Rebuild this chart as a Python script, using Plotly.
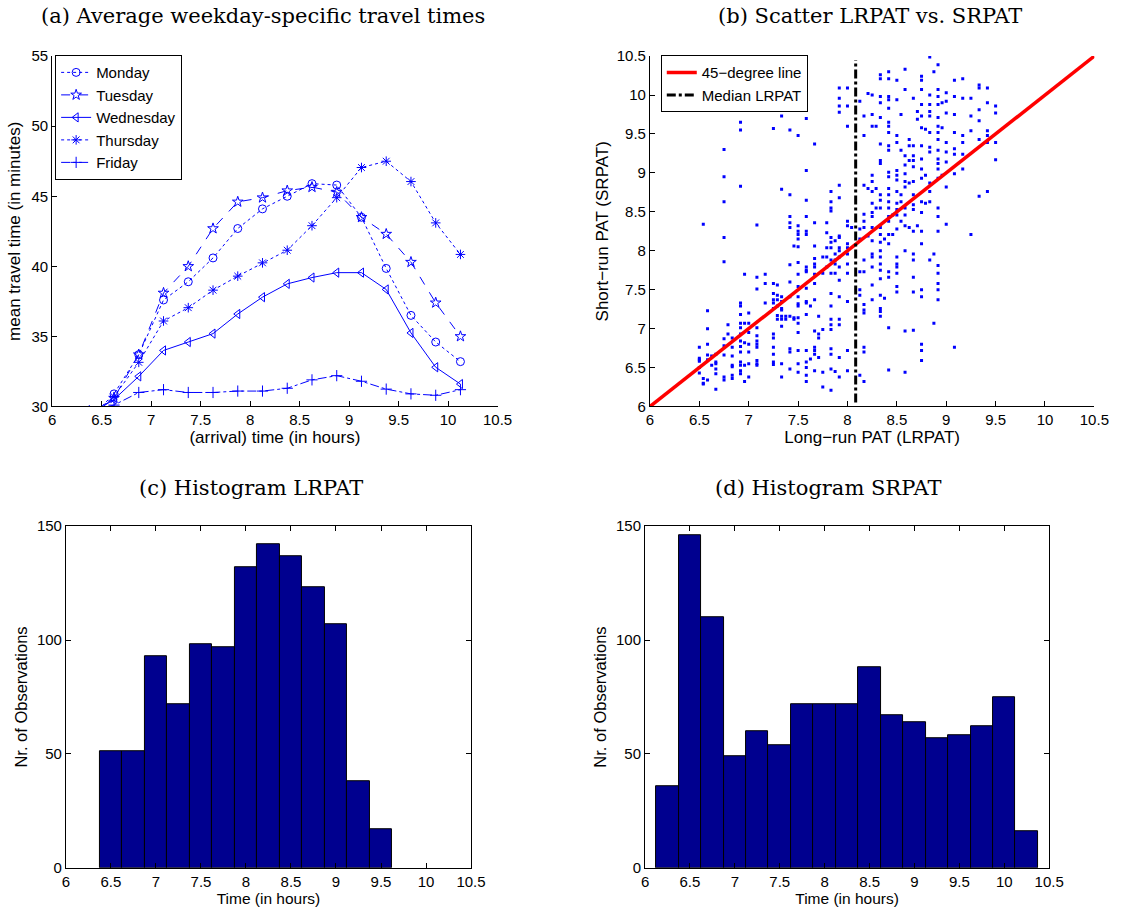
import plotly.graph_objects as go

# ---------------- data ----------------
# (a) weekday-specific mean travel times
arrival_hours = [6.375, 6.625, 6.875, 7.125, 7.375, 7.625, 7.875, 8.125, 8.375,
                 8.625, 8.875, 9.125, 9.375, 9.625, 9.875, 10.125]
monday = [29.1, 30.9, 33.7, 37.6, 38.9, 40.6, 42.7, 44.1, 45.0, 45.9, 45.8, 43.5, 39.85, 36.5, 34.6, 33.2]
tuesday = [29.3, 30.6, 33.7, 38.1, 40.0, 42.7, 44.6, 44.9, 45.4, 45.65, 45.3, 43.5, 42.3, 40.3, 37.4, 35.0]
wednesday = [29.4, 30.5, 32.15, 34.0, 34.6, 35.2, 36.6, 37.8, 38.75, 39.2, 39.55, 39.55, 38.35, 35.25, 32.8, 31.6]
thursday = [29.3, 30.7, 33.15, 36.1, 37.05, 38.3, 39.3, 40.25, 41.15, 42.9, 44.9, 47.05, 47.5, 46.05, 43.1, 40.85]
friday = [29.7, 30.1, 31.0, 31.2, 31.0, 31.0, 31.1, 31.1, 31.3, 31.9, 32.2, 31.8, 31.24, 30.9, 30.8, 31.2]
weekday_names = ["Monday", "Tuesday", "Wednesday", "Thursday", "Friday"]

# (b) scatter LRPAT (columns) vs SRPAT
lrpat_cols = [6.5, 6.54, 6.583, 6.625, 6.667, 6.75, 6.79, 6.833, 6.875, 6.917, 6.958, 7.0,
              7.083, 7.167, 7.25, 7.29, 7.333, 7.375, 7.417, 7.458, 7.5, 7.583, 7.625, 7.667,
              7.708, 7.75, 7.79, 7.833, 7.875, 7.917, 8.0, 8.042, 8.125, 8.167, 8.208, 8.25,
              8.29, 8.333, 8.375, 8.417, 8.458, 8.5, 8.542, 8.583, 8.625, 8.667, 8.708, 8.75,
              8.79, 8.833, 8.875, 8.917, 8.958, 9.0, 9.083, 9.167, 9.25, 9.333, 9.417, 9.5]
srpat_cols = [
    [6.76, 6.6, 6.58, 6.5, 6.43, 6.62],
    [8.34, 6.36, 6.3, 6.29],
    [7.23, 7.0, 6.8, 6.66, 6.6, 6.34],
    [6.65, 6.53],
    [6.67, 6.57, 6.55, 6.48, 6.42, 6.22],
    [9.3, 8.95, 8.63, 8.17, 7.86, 6.87, 6.78, 6.66, 6.38, 6.34],
    [7.05, 6.93],
    [6.88, 6.76, 6.65, 6.53, 6.4, 6.36, 6.51],
    [9.88],
    [9.94, 9.65, 9.55, 8.83, 7.33, 7.29, 7.18, 7.07, 7.01, 6.93, 6.84, 6.77, 6.7, 6.57, 6.53, 6.46, 6.42],
    [7.7, 7.07, 6.82, 6.53, 6.32],
    [7.2, 7.07, 6.95, 6.8, 6.7, 6.55, 6.38],
    [8.33, 7.66, 7.51, 7.01, 6.91, 6.84, 6.8, 6.76, 6.59, 6.55, 6.53],
    [7.7, 7.58, 7.33],
    [9.57, 7.58, 7.45, 7.37, 7.33, 7.26, 6.93, 6.88, 6.76, 6.67, 6.57, 6.54],
    [7.56, 7.43, 7.37, 7.29, 7.17, 7.12],
    [9.73, 8.79, 7.41, 7.35, 7.26, 7.24, 7.16, 7.12, 7.03, 6.55, 6.38],
    [7.16, 7.12],
    [9.55, 8.72, 8.44, 8.36, 8.3, 7.82, 7.6, 7.41, 7.16, 6.74, 6.7, 6.48],
    [8.06, 7.14, 7.12],
    [10.24, 9.99, 9.48, 8.32, 8.25, 8.21, 8.15, 8.05, 7.85, 7.7, 7.54, 7.41, 7.32, 7.29, 7.14, 7.07, 6.95, 6.72, 6.55, 6.44],
    [9.7, 9.03, 8.65, 8.44, 8.25, 8.21, 7.79, 7.75, 7.73, 7.52, 7.35, 7.33, 7.18, 6.72, 6.57, 6.5, 6.4, 6.32],
    [7.29, 6.61],
    [9.37, 8.36, 8.06, 7.9, 7.83, 7.79, 7.7, 7.58, 7.37, 6.97, 6.76, 6.72, 6.67, 6.46],
    [7.16, 6.93, 6.88, 6.63],
    [7.92, 7.71, 6.99, 6.44, 6.25],
    [8.36, 8.23, 8.04, 7.92, 7.79],
    [8.76, 8.63, 8.55, 8.51, 8.17, 8.11, 8.04, 7.88, 7.71, 7.45, 7.29, 7.12, 7.05, 6.99, 6.74, 6.67, 6.48, 6.21],
    [8.13, 7.96, 7.88, 7.83, 7.71, 6.45],
    [10.09, 9.96, 9.86, 9.78, 8.84, 8.68, 8.19, 8.17, 8.04, 8.0, 7.92, 7.79, 7.62, 7.41, 7.12, 7.05, 6.63, 6.38],
    [10.09, 9.86, 9.6, 8.38, 8.32, 8.09, 8.04, 7.96, 7.83, 7.71, 7.35, 6.72, 6.46],
    [8.3],
    [9.92, 8.28, 8.15, 7.73, 7.5, 7.43, 6.4],
    [9.73, 9.48, 8.84, 8.47, 8.38, 8.3, 7.88, 7.73, 7.31, 7.24, 7.2, 6.76, 6.7, 6.32],
    [10.02, 8.8, 8.19],
    [10.0, 9.75, 9.6, 8.97, 8.89, 8.76, 8.61, 8.49, 8.44, 8.3, 8.13, 7.96, 7.92, 7.79, 7.56, 7.37],
    [9.6, 8.8, 8.55],
    [10.26, 10.21, 9.98, 9.9, 9.71, 9.37, 9.16, 9.12, 8.72, 8.65, 8.55, 8.3, 8.21, 8.11, 8.0, 7.92, 7.83, 7.75, 7.64, 7.43, 7.26, 7.22, 7.16],
    [8.15, 7.39],
    [10.3, 10.21, 9.98, 9.94, 9.83, 9.65, 9.6, 9.52, 9.35, 9.29, 9.01, 8.95, 8.8, 8.72, 8.63, 8.55, 8.44, 8.38, 8.21, 8.09, 7.73, 7.66, 7.01, 6.47],
    [8.46, 8.21],
    [10.19, 9.94, 9.48, 9.39, 9.03, 8.97, 8.91, 8.76, 8.61, 8.53, 8.46, 8.28, 7.92, 7.83, 7.79, 7.71, 7.54, 7.47],
    [9.75, 9.29, 8.72, 8.63, 8.38],
    [10.33, 10.07, 9.22, 9.1, 8.99, 8.89, 8.82, 8.55, 8.46, 8.32, 8.0, 6.97, 6.44],
    [9.43, 9.35, 9.16, 8.87, 8.3],
    [9.96, 9.35, 9.22, 9.16, 9.08, 8.89, 8.72, 8.59, 8.53, 8.25, 7.96, 7.88, 7.66, 7.47, 6.98],
    [9.79, 9.69, 8.32],
    [10.24, 10.19, 10.07, 9.88, 9.73, 9.58, 9.35, 9.18, 9.05, 8.93, 8.63, 8.49, 8.25, 8.09, 7.5, 7.41, 6.8, 6.72, 6.59],
    [9.56, 8.97, 8.61],
    [10.49, 10.0, 9.88, 9.79, 9.73, 9.52, 9.33, 9.27, 8.87, 8.76, 8.63, 7.88],
    [10.3, 7.96, 7.07],
    [10.39, 10.07, 9.98, 9.88, 9.71, 9.6, 9.52, 9.43, 9.29, 9.18, 9.12, 9.05, 8.93, 8.55, 8.44, 8.25, 7.81, 7.71, 7.58, 7.5, 7.37],
    [9.9, 9.58, 8.97],
    [10.03, 9.92, 9.77, 9.39, 9.27, 9.14, 8.82, 8.34],
    [10.19, 9.98, 9.75, 9.52, 9.31, 9.24, 8.99, 6.76],
    [10.21, 9.96, 9.48, 9.39, 9.24, 9.05],
    [9.96, 9.73, 9.54, 8.21],
    [10.13, 10.09, 9.81, 9.67, 9.43, 8.7],
    [10.09, 9.9, 9.54, 9.48, 9.39, 8.76],
    [9.86, 9.77, 9.39, 9.17],
]
diag_line = [6.0, 10.5]
median_lrpat = 8.083
median_span = [6.05, 10.45]

# (c) histogram LRPAT
lrpat_bin_centers = [6.5, 6.75, 7.0, 7.25, 7.5, 7.75, 8.0, 8.25, 8.5, 8.75, 9.0, 9.25, 9.5]
lrpat_counts = [51, 51, 93, 72, 98, 97, 132, 142, 137, 123, 107, 38, 17]

# (d) histogram SRPAT
srpat_bin_centers = [6.25, 6.5, 6.75, 7.0, 7.25, 7.5, 7.75, 8.0, 8.25, 8.5, 8.75, 9.0,
                     9.25, 9.5, 9.75, 10.0, 10.25]
srpat_counts = [36, 146, 110, 49, 60, 54, 72, 72, 72, 88, 67, 64, 57, 58, 62, 75, 16]
bin_width = 0.25

# ---------------- figure ----------------
W, H = 1131, 917
BLUE = "#0000FF"
NAVY = "#00008F"
SANS = "Liberation Sans, Arial, sans-serif"
SERIF = "DejaVu Serif, Liberation Serif, serif"


def xd(a, b):
    return [a / W, b / W]


def yd(top, bottom):
    return [1 - bottom / H, 1 - top / H]


fig = go.Figure()

styles = [("dot", "circle-open"), ("dash", "star-open"), ("solid", "triangle-left-open"),
          ("dot", "asterisk-open"), ("dashdot", "cross-thin-open")]
for name, vals, (dash, sym) in zip(weekday_names, [monday, tuesday, wednesday, thursday, friday], styles):
    fig.add_trace(go.Scatter(
        x=arrival_hours, y=vals, name=name, mode="lines+markers",
        line=dict(color=BLUE, width=1, dash=dash),
        marker=dict(symbol=sym, size=8, color=BLUE, line=dict(color=BLUE, width=1)),
        xaxis="x", yaxis="y", legend="legend"))

sx, sy = [], []
for xv, col in zip(lrpat_cols, srpat_cols):
    sx += [xv] * len(col)
    sy += col
fig.add_trace(go.Scatter(x=sx, y=sy, mode="markers", showlegend=False,
                         marker=dict(symbol="square", size=3, color=BLUE),
                         xaxis="x2", yaxis="y2"))
fig.add_trace(go.Scatter(x=diag_line, y=diag_line, mode="lines", name="45\u2212degree line",
                         line=dict(color="#FF0000", width=3.5), xaxis="x2", yaxis="y2",
                         legend="legend2"))
fig.add_trace(go.Scatter(x=[median_lrpat, median_lrpat], y=median_span, mode="lines",
                         name="Median LRPAT", line=dict(color="black", width=3, dash="dashdot"),
                         xaxis="x2", yaxis="y2", legend="legend2"))

fig.add_trace(go.Bar(x=lrpat_bin_centers, y=lrpat_counts, width=bin_width, showlegend=False,
                     marker=dict(color=NAVY, line=dict(color="black", width=1)),
                     xaxis="x3", yaxis="y3"))
fig.add_trace(go.Bar(x=srpat_bin_centers, y=srpat_counts, width=bin_width, showlegend=False,
                     marker=dict(color=NAVY, line=dict(color="black", width=1)),
                     xaxis="x4", yaxis="y4"))


def axis(domain, rng, dtick, anchor, title, tsize, fsize, standoff, mirror=False):
    return dict(domain=domain, range=rng, dtick=dtick, tick0=0, anchor=anchor,
                showline=True, linecolor="black", linewidth=1, mirror=mirror,
                ticks="inside", ticklen=5, tickcolor="black", tickwidth=1,
                showgrid=False, zeroline=False, fixedrange=True,
                tickfont=dict(family=SANS, size=fsize, color="black"),
                title=dict(text=title, font=dict(family=SANS, size=tsize, color="black"),
                           standoff=standoff))


fig.update_layout(
    width=W, height=H, margin=dict(l=0, r=0, t=0, b=0),
    paper_bgcolor="white", plot_bgcolor="white",
    font=dict(family=SANS, color="black"),
    bargap=0,
    xaxis=axis(xd(49, 502), [6, 10.5], 0.5, "y", "(arrival) time (in hours)", 17, 15, 2),
    yaxis=axis(yd(48, 405), [30, 55], 5, "x", "mean travel time (in minutes)", 17, 15, 6),
    xaxis2=axis(xd(657, 1109), [6, 10.5], 0.5, "y2", "Long\u2212run PAT (LRPAT)", 17, 15, 2),
    yaxis2=axis(yd(48, 405), [6, 10.5], 0.5, "x2", "Short\u2212run PAT (SRPAT)", 17, 15, 3),
    xaxis3=axis(xd(63, 475), [6, 10.5], 0.5, "y3", "Time (in hours)", 15.5, 15, 0, "ticks"),
    yaxis3=axis(yd(527, 875), [0, 150], 50, "x3", "Nr. of Observations", 16.5, 15, 5, "ticks"),
    xaxis4=axis(xd(652, 1063), [6, 10.5], 0.5, "y4", "Time (in hours)", 15.5, 15, 0, "ticks"),
    yaxis4=axis(yd(527, 875), [0, 150], 50, "x4", "Nr. of Observations", 16.5, 15, 5, "ticks"),
    legend=dict(x=52 / W, y=1 - 47 / H, xanchor="left", yanchor="top",
                bgcolor="white", bordercolor="black", borderwidth=1,
                font=dict(family=SANS, size=15, color="black"), itemwidth=30,
                tracegroupgap=0),
    legend2=dict(x=668 / W, y=1 - 47 / H, xanchor="left", yanchor="top",
                 bgcolor="white", bordercolor="black", borderwidth=1,
                 font=dict(family=SANS, size=15, color="black"), itemwidth=30,
                 tracegroupgap=0),
    showlegend=True,
)

titles = [("(a) Average weekday-specific travel times", 263, 7),
          ("(b) Scatter LRPAT vs. SRPAT", 881, 7),
          ("(c) Histogram LRPAT", 251, 488),
          ("(d) Histogram SRPAT", 838, 488)]
for text, cx, cy in titles:
    fig.add_annotation(text=text, x=cx / W, y=1 - cy / H, xref="paper", yref="paper",
                       xanchor="center", yanchor="middle", showarrow=False,
                       font=dict(family=SERIF, size=21, color="black"))

fig.write_html("out.html", config={"displayModeBar": False},
               post_script="document.body.style.margin='0';document.body.style.overflow='hidden';")
